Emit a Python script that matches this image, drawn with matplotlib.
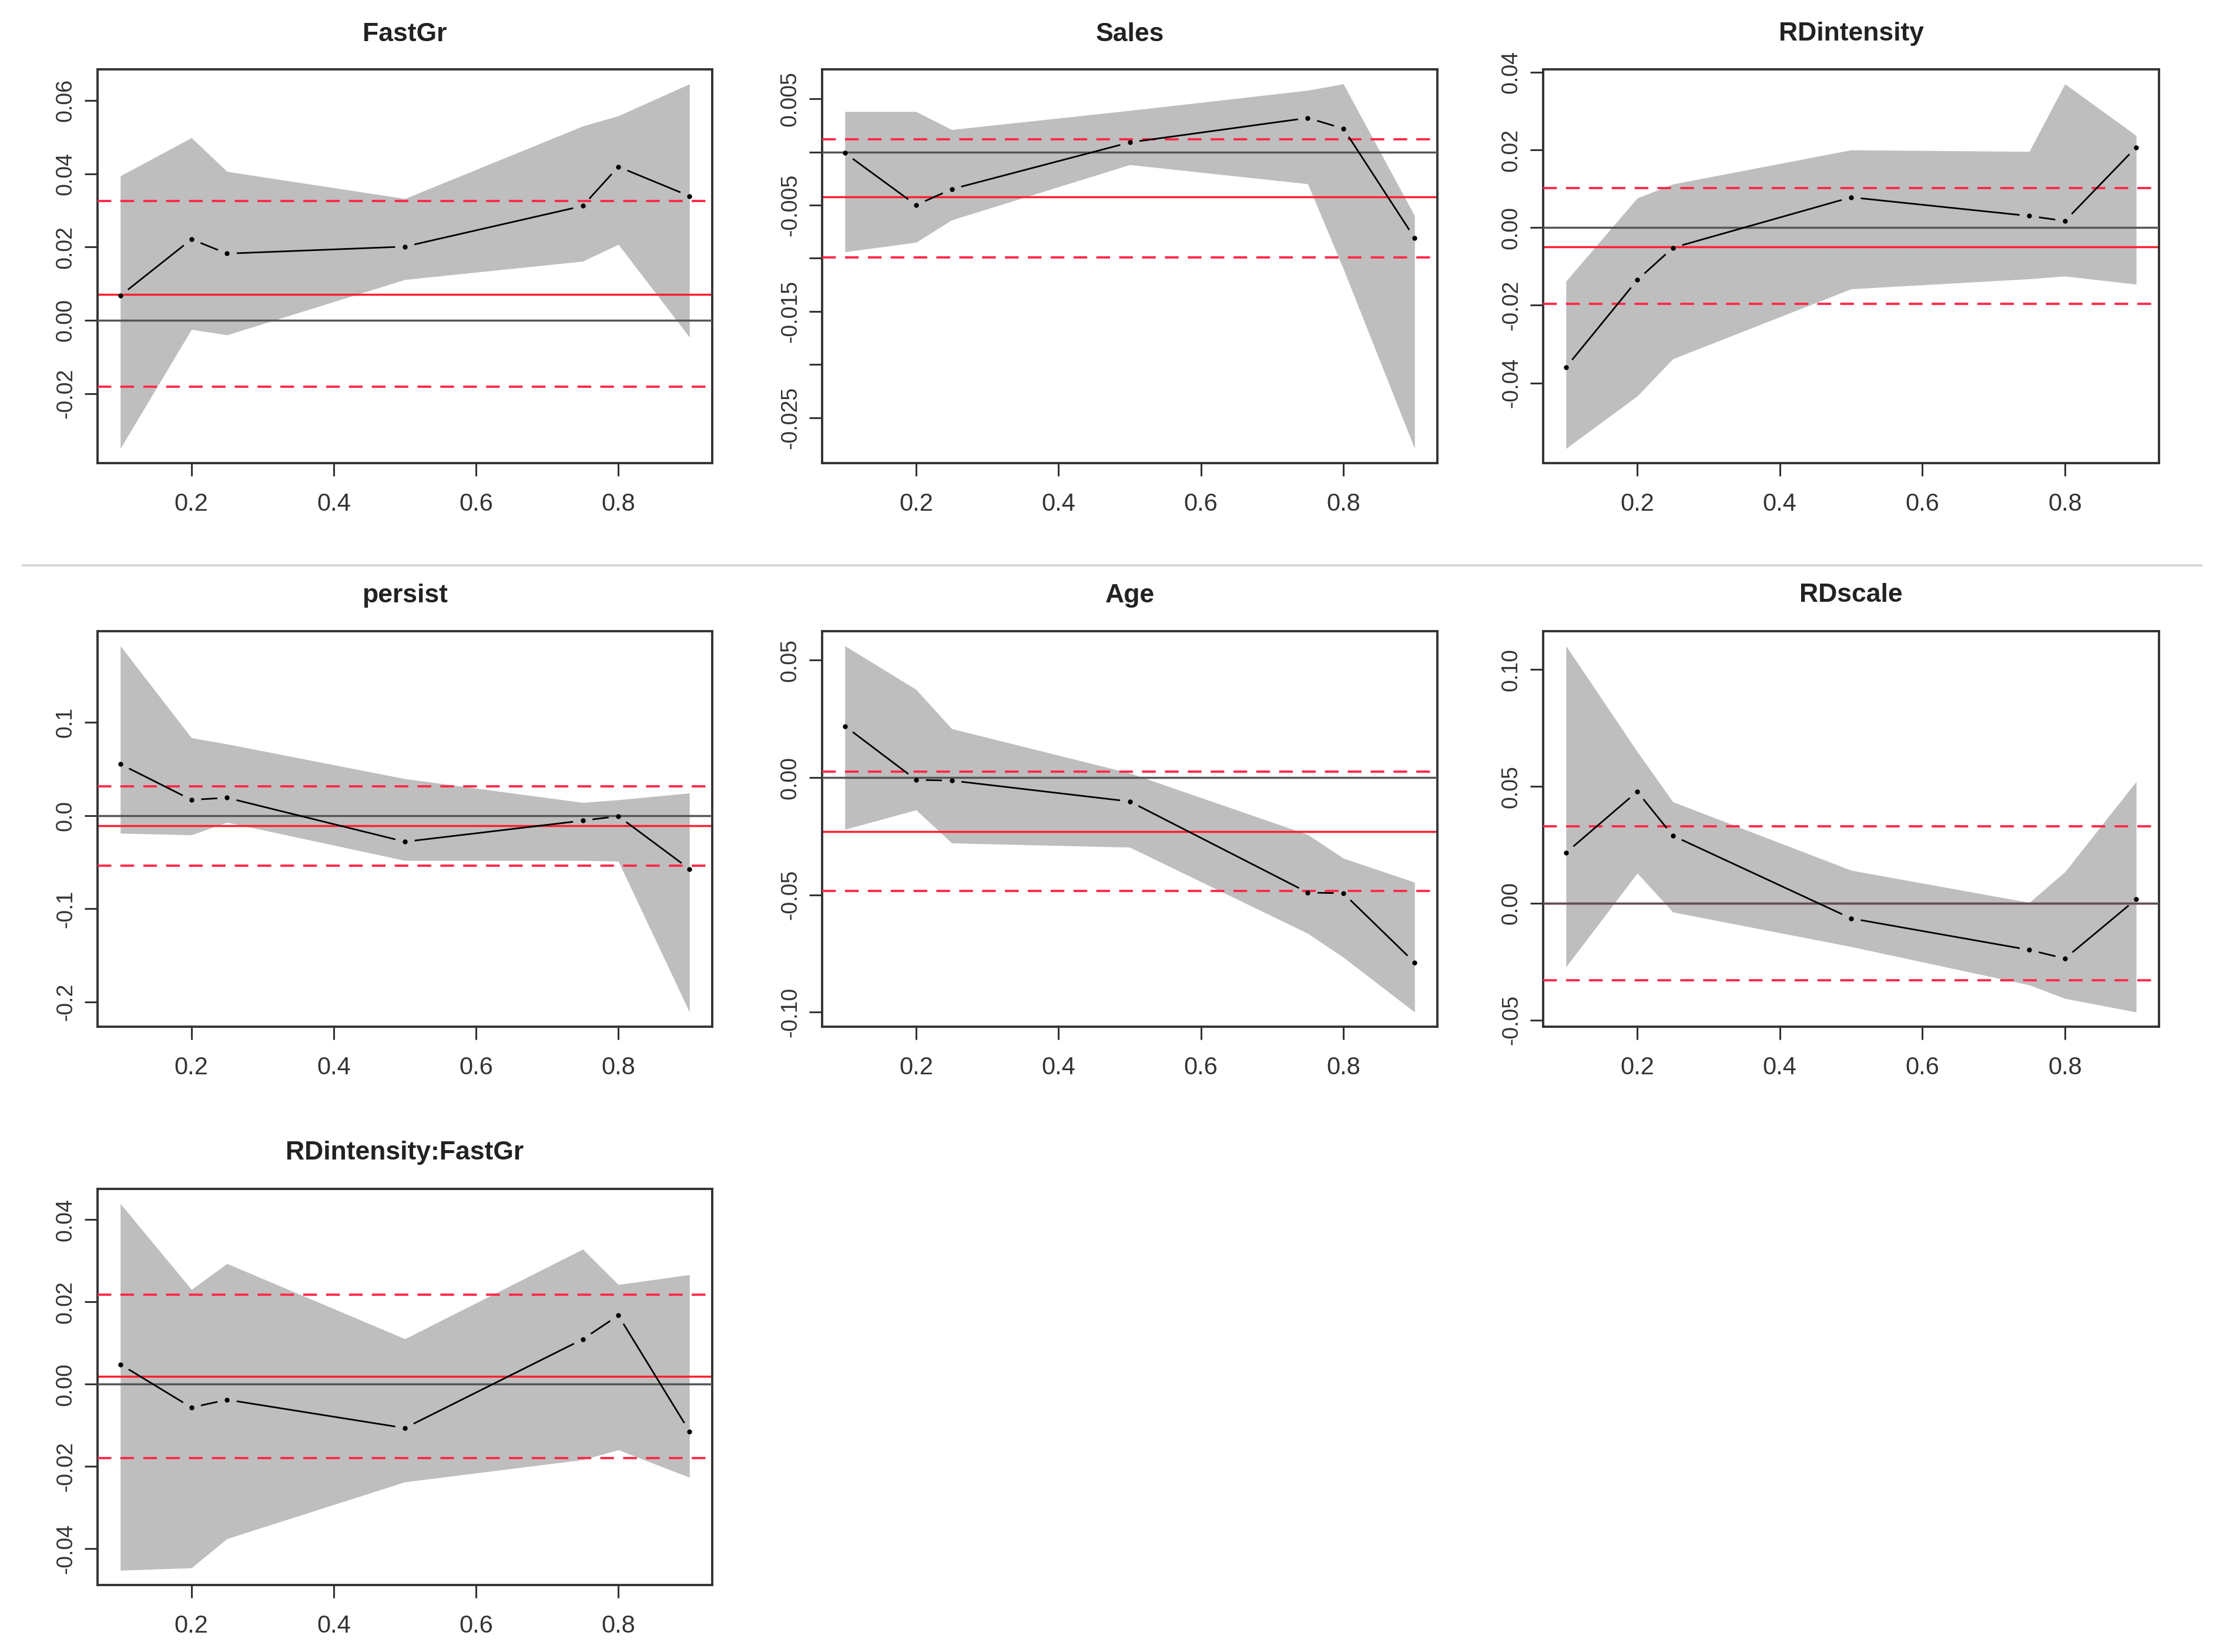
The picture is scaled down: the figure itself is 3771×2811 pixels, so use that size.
import numpy as np
import matplotlib
matplotlib.use("Agg")
import matplotlib.pyplot as plt

# quantile levels shared by every panel
taus = [0.1, 0.2, 0.25, 0.5, 0.75, 0.8, 0.9]

names = ["FastGr", "Sales", "RDintensity", "persist", "Age", "RDscale",
         "RDintensity:FastGr"]

# quantile regression estimates
est_fastgr = [0.0067, 0.0221, 0.0182, 0.0201, 0.0312, 0.0419, 0.0339]
est_sales = [-0.0001, -0.0050, -0.0035, 0.0009, 0.0032, 0.0022, -0.0081]
est_rdint = [-0.0360, -0.0135, -0.0052, 0.0078, 0.0030, 0.0017, 0.0207]
est_persist = [0.0551, 0.0168, 0.0190, -0.0281, -0.0055, -0.0007, -0.0573]
est_age = [0.0219, -0.0010, -0.0013, -0.0102, -0.0490, -0.0493, -0.0788]
est_rdscale = [0.0216, 0.0478, 0.0289, -0.0065, -0.0200, -0.0237, 0.0017]
est_inter = [0.0048, -0.0057, -0.0038, -0.0107, 0.0109, 0.0167, -0.0115]

# confidence band, upper edge
up_fastgr = [0.0394, 0.0498, 0.0406, 0.0332, 0.0530, 0.0558, 0.0645]
up_sales = [0.0038, 0.0038, 0.0021, 0.0039, 0.0058, 0.0064, -0.0060]
up_rdint = [-0.0138, 0.0076, 0.0112, 0.0200, 0.0196, 0.0370, 0.0237]
up_persist = [0.1818, 0.0832, 0.0766, 0.0394, 0.0139, 0.0168, 0.0241]
up_age = [0.0561, 0.0375, 0.0208, 0.0019, -0.0243, -0.0344, -0.0446]
up_rdscale = [0.1102, 0.0649, 0.0434, 0.0141, 0.0003, 0.0134, 0.0521]
up_inter = [0.0439, 0.0230, 0.0293, 0.0110, 0.0328, 0.0242, 0.0266]

# confidence band, lower edge
lo_fastgr = [-0.0350, -0.0025, -0.0040, 0.0111, 0.0161, 0.0207, -0.0046]
lo_sales = [-0.0094, -0.0085, -0.0064, -0.0012, -0.0030, -0.0110, -0.0279]
lo_rdint = [-0.0569, -0.0434, -0.0338, -0.0158, -0.0132, -0.0125, -0.0146]
lo_persist = [-0.0190, -0.0208, -0.0073, -0.0482, -0.0482, -0.0490, -0.2106]
lo_age = [-0.0221, -0.0138, -0.0279, -0.0297, -0.0664, -0.0766, -0.0999]
lo_rdscale = [-0.0273, 0.0129, -0.0038, -0.0186, -0.0350, -0.0408, -0.0466]
lo_inter = [-0.0453, -0.0447, -0.0376, -0.0238, -0.0184, -0.0160, -0.0227]

# OLS estimate and its interval
ols_est = [0.0071, -0.0042, -0.0049, -0.0110, -0.0230, 0.0000, 0.0019]
ols_lo = [-0.0182, -0.0099, -0.0197, -0.0540, -0.0483, -0.0331, -0.0180]
ols_hi = [0.0325, 0.0012, 0.0102, 0.0310, 0.0026, 0.0330, 0.0217]

# y ticks, and which of them get a label
yticks = [[-0.02, 0.0, 0.02, 0.04, 0.06],
          [0.005, 0.0, -0.005, -0.01, -0.015, -0.02, -0.025],
          [0.04, 0.02, 0.0, -0.02, -0.04],
          [0.1, 0.0, -0.1, -0.2],
          [0.05, 0.0, -0.05, -0.10],
          [0.10, 0.05, 0.0, -0.05],
          [0.04, 0.02, 0.0, -0.02, -0.04]]
ylabels = [["-0.02", "0.00", "0.02", "0.04", "0.06"],
           ["0.005", "", "-0.005", "", "-0.015", "", "-0.025"],
           ["0.04", "0.02", "0.00", "-0.02", "-0.04"],
           ["0.1", "0.0", "-0.1", "-0.2"],
           ["0.05", "0.00", "-0.05", "-0.10"],
           ["0.10", "0.05", "0.00", "-0.05"],
           ["0.04", "0.02", "0.00", "-0.02", "-0.04"]]
xticks = [0.2, 0.4, 0.6, 0.8]
xlabels = ["0.2", "0.4", "0.6", "0.8"]

ests = [est_fastgr, est_sales, est_rdint, est_persist, est_age, est_rdscale, est_inter]
ups = [up_fastgr, up_sales, up_rdint, up_persist, up_age, up_rdscale, up_inter]
los = [lo_fastgr, lo_sales, lo_rdint, lo_persist, lo_age, lo_rdscale, lo_inter]

W, H = 3771, 2811
cols = [(166, 1212), (1399, 2446), (2626, 3674)]
rows = [(118, 788), (1074, 1747), (2023, 2697)]
title_y = [58, 1013, 1961]

narrow = ["Liberation Sans Narrow", "Liberation Sans", "DejaVu Sans"]
arial = ["Liberation Sans", "DejaVu Sans"]


def gapped_line(ax, x, y, gap=18):
    # R type="b": segments stop short of the points
    pts = ax.transData.transform(np.column_stack([x, y]))
    inv = ax.transData.inverted()
    for i in range(len(pts) - 1):
        p, q = pts[i], pts[i + 1]
        d = np.hypot(*(q - p))
        if d <= 2 * gap:
            continue
        u = (q - p) / d
        seg = inv.transform(np.array([p + u * gap, q - u * gap]))
        ax.plot(seg[:, 0], seg[:, 1], color="black", lw=2.0, zorder=4)
    ax.plot(x, y, "o", color="black", ms=5, zorder=5)


fig = plt.figure(figsize=(W / 100, H / 100), dpi=100)

for k in range(7):
    r, c = divmod(k, 3)
    l, rt = cols[c]
    t, b = rows[r]
    ax = fig.add_axes([l / W, 1 - b / H, (rt - l) / W, (b - t) / H])

    lo = np.array(los[k])
    up = np.array(ups[k])
    lo_all = min(lo.min(), ols_lo[k])
    hi_all = max(up.max(), ols_hi[k])
    pad = 0.04 * (hi_all - lo_all)
    ax.set_ylim(lo_all - pad, hi_all + pad)
    ax.set_xlim(0.1 - 0.032, 0.9 + 0.032)

    ax.fill_between(taus, lo, up, color="#bebebe", lw=0, zorder=1)
    ax.axhline(ols_est[k], color="#ff1f2f", lw=2.5, zorder=2)
    ax.axhline(0, color="#555555", lw=2.5, zorder=3)
    for v in (ols_lo[k], ols_hi[k]):
        ax.axhline(v, color="#ff2a4a", lw=2.8, ls=(0, (6, 4)), zorder=3)
    gapped_line(ax, taus, ests[k])

    ax.set_xticks(xticks)
    ax.set_xticklabels(xlabels, family=narrow, fontsize=30, color="#333333")
    ax.set_yticks(yticks[k])
    ax.set_yticklabels(ylabels[k], family=arial, fontsize=27, rotation=90,
                       va="center", color="#333333")
    ax.tick_params(axis="x", length=16, width=2.2, pad=20, color="#333333")
    ax.tick_params(axis="y", length=16, width=2.2, pad=10, color="#333333")
    for s in ax.spines.values():
        s.set_linewidth(2.8)
        s.set_color("#333333")

    fig.text((l + rt) / 2 / W, 1 - title_y[r] / H, names[k], ha="center",
             va="center", family=narrow, fontsize=32, fontweight="bold",
             color="#222222")

# thin separator between the first and second rows
fig.add_artist(plt.Line2D([39 / W, 3746 / W], [1 - 962 / H, 1 - 962 / H],
                          color="#d9d9d9", lw=3))

fig.savefig("out.png", dpi=100)
